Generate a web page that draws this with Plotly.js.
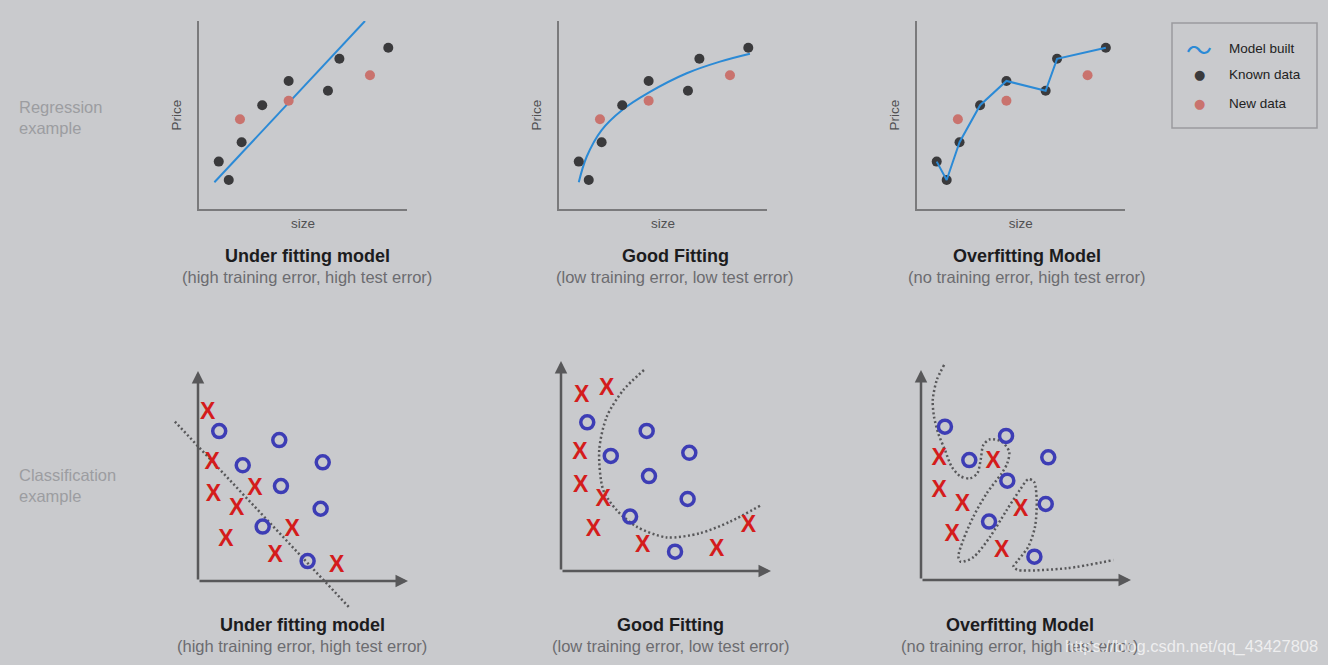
<!DOCTYPE html>
<html><head><meta charset="utf-8">
<script src="https://cdn.plot.ly/plotly-3.0.1.min.js"></script>
<style>html,body{margin:0;padding:0;background:#c9cacd;}#chart{width:1328px;height:665px;}</style>
</head><body><div id="chart"></div>
<script>
// ---------- Regression data (size vs price, arbitrary units 0-10) ----------
const regKnownX = [0.95, 1.43, 2.05, 3.04, 4.31, 6.20, 6.75, 9.10];
const regKnownY = [2.52, 1.54, 3.55, 5.52, 6.81, 6.29, 7.99, 8.58];
const regNewX = [1.97, 4.31, 8.22];
const regNewY = [4.77, 5.76, 7.11];
const underFitX = [0.74, 7.98];
const underFitY = [1.42, 10.0];
const goodFitX = [0.95, 1.33, 2.05, 3.04, 4.31, 6.14, 7.74, 9.18];
const goodFitY = [1.42, 2.78, 4.20, 5.27, 6.19, 7.22, 7.84, 8.26];

// ---------- Classification data ----------
// Under fitting
const c1XsX = [0.46, 0.68, 0.73, 1.84, 2.71, 1.33, 3.67, 4.49, 6.60];
const c1XsY = [7.99, 5.63, 4.10, 3.43, 4.37, 1.95, 1.16, 2.40, 0.68];
const c1OsX = [1.01, 3.87, 2.13, 5.94, 3.95, 5.84, 3.08, 5.22];
const c1OsY = [7.14, 6.71, 5.51, 5.65, 4.52, 3.44, 2.59, 0.95];
const c1BoundX = [-1.10, 7.24];
const c1BoundY = [7.59, -1.30];
// Good fitting
const c2XsX = [0.99, 2.18, 0.90, 0.94, 2.01, 1.54, 3.89, 7.41, 8.92];
const c2XsY = [8.30, 8.65, 5.60, 4.05, 3.38, 1.92, 1.16, 1.00, 2.14];
const c2OsX = [1.25, 4.08, 2.37, 6.11, 4.19, 6.03, 3.29, 5.43];
const c2OsY = [7.08, 6.67, 5.48, 5.63, 4.52, 3.43, 2.59, 0.92];
const c2BoundX = [3.95, 2.97, 2.18, 1.82, 2.01, 2.65, 3.60, 5.03, 6.62, 8.05, 9.48];
const c2BoundY = [9.57, 8.62, 7.35, 5.76, 3.86, 2.90, 2.11, 1.60, 1.80, 2.35, 3.11];
// Overfitting
const c3XsX = [0.86, 3.44, 0.87, 1.97, 4.75, 1.49, 3.84];
const c3XsY = [5.75, 5.63, 4.24, 3.57, 3.30, 2.14, 1.35];
const c3OsX = [1.14, 4.05, 2.30, 6.06, 4.11, 5.94, 3.24, 5.40];
const c3OsY = [7.30, 6.86, 5.71, 5.84, 4.73, 3.62, 2.78, 1.11];
const c3BoundX = [1.10, 0.75, 0.56, 0.62, 0.82, 1.14, 1.46, 1.86, 2.33, 2.68, 2.84, 2.97, 3.29, 3.84, 4.20, 4.11, 3.84, 3.13, 2.49, 2.01, 1.78, 1.89, 2.49, 3.29, 4.08, 4.71, 5.11, 5.38, 5.51, 5.43, 5.11, 4.63, 4.40, 4.63, 6.94, 9.16];
const c3BoundY = [10.24, 9.52, 8.57, 7.78, 6.99, 6.19, 5.40, 4.95, 4.84, 5.08, 5.71, 6.43, 6.70, 6.59, 6.11, 5.56, 5.08, 4.13, 3.01, 1.90, 1.11, 0.87, 1.08, 2.06, 3.33, 4.29, 4.80, 4.68, 3.81, 2.54, 1.59, 0.95, 0.63, 0.48, 0.56, 0.95];

// ---------- Text ----------
const modelTitles = ['Under fitting model', 'Good Fitting', 'Overfitting Model'];
const modelSubtitles = ['(high training error, high test error)', '(low training error, low test error)', '(no training error, high test error)'];
const rowLabels = ['Regression<br>example', 'Classification<br>example'];
const legendLabels = ['Model built', 'Known data', 'New data'];
const xLabel = 'size', yLabel = 'Price';
const watermark = 'https://blog.csdn.net/qq_43427808';

// ---------- Styling / layout ----------
const W = 1328, H = 665;
const FONT = 'Liberation Sans, Arial, Helvetica, sans-serif';
const BLUE = '#2b8ad6', DARK = '#3a3a3c', RED = '#c9736e';
const XRED = '#d41c1c', OBLUE = '#3d3db5', AX = '#7a7a7c', ARROW = '#58585a';
const px = (a, b) => [a / W, b / W];
const py = (top, bottom) => [1 - bottom / H, 1 - top / H];

const traces = [];
function sc(ax, o) { return Object.assign({xaxis: 'x' + ax, yaxis: 'y' + ax, showlegend: false, hoverinfo: 'skip', cliponaxis: false}, o); }
function known(ax) { return sc(ax, {x: regKnownX, y: regKnownY, mode: 'markers', marker: {color: DARK, size: 10}}); }
function fresh(ax) { return sc(ax, {x: regNewX, y: regNewY, mode: 'markers', marker: {color: RED, size: 10}}); }

// Panel 1
traces.push(sc('', {x: underFitX, y: underFitY, mode: 'lines', line: {color: BLUE, width: 2}}));
traces.push(known(''), fresh(''));
// Panel 2
traces.push(sc('2', {x: goodFitX, y: goodFitY, mode: 'lines', line: {color: BLUE, width: 2, shape: 'spline', smoothing: 1}}));
traces.push(known('2'), fresh('2'));
// Panel 3
traces.push(known('3'), fresh('3'));
traces.push(sc('3', {x: regKnownX, y: regKnownY, mode: 'lines', line: {color: BLUE, width: 2}}));

// Classification panels
const cls = [
  ['4', c1XsX, c1XsY, c1OsX, c1OsY, c1BoundX, c1BoundY, 'linear'],
  ['5', c2XsX, c2XsY, c2OsX, c2OsY, c2BoundX, c2BoundY, 'spline'],
  ['6', c3XsX, c3XsY, c3OsX, c3OsY, c3BoundX, c3BoundY, 'spline'],
];
cls.forEach(([ax, xx, xy, ox, oy, bx, by, shp]) => {
  traces.push(sc(ax, {x: bx, y: by, mode: 'lines', line: {color: ARROW, width: 2.5, dash: '2px,2.5px', shape: shp, smoothing: 0.8}}));
  traces.push(sc(ax, {x: ox, y: oy, mode: 'markers', marker: {symbol: 'circle-open', size: 13, color: OBLUE, line: {color: OBLUE, width: 3.5}}}));
  traces.push(sc(ax, {x: xx, y: xy, mode: 'text', text: xx.map(() => 'X'), textposition: 'middle center', textfont: {family: FONT, size: 23, color: XRED, weight: 'bold'}}));
});

const layout = {
  width: W, height: H, margin: {l: 0, r: 0, t: 0, b: 0},
  paper_bgcolor: '#c9cacd', plot_bgcolor: 'rgba(0,0,0,0)',
  font: {family: FONT}, showlegend: false,
  annotations: [], shapes: []
};
const topX = [[199, 407], [559, 767], [917, 1124.5]];
['', '2', '3'].forEach((a, i) => {
  const base = {showline: true, linecolor: AX, linewidth: 2, showticklabels: false, ticks: '', showgrid: false, zeroline: false, fixedrange: true, range: [0, 10]};
  layout['xaxis' + a] = Object.assign({}, base, {domain: px(...topX[i]), anchor: 'y' + a,
    title: {text: xLabel, font: {size: 13.5, color: '#505052'}, standoff: 9}});
  layout['yaxis' + a] = Object.assign({}, base, {domain: py(21, 209), anchor: 'x' + a,
    title: {text: yLabel, font: {size: 13.5, color: '#505052'}, standoff: 12}});
});
const origins = [[198, 581], [561, 571], [921, 580]];
const U = 21;
['4', '5', '6'].forEach((a, i) => {
  const [ox, oy] = origins[i];
  const base = {visible: false, range: [-2, 11], fixedrange: true};
  layout['xaxis' + a] = Object.assign({}, base, {domain: px(ox - 2 * U, ox + 11 * U), anchor: 'y' + a});
  layout['yaxis' + a] = Object.assign({}, base, {domain: py(oy - 11 * U, oy + 2 * U), anchor: 'x' + a});
  const arr = {xref: 'x' + a, yref: 'y' + a, axref: 'x' + a, ayref: 'y' + a, ax: 0, ay: 0, text: '', showarrow: true,
    arrowhead: 2, arrowsize: 1, arrowwidth: 2.5, arrowcolor: ARROW, standoff: 0};
  layout.annotations.push(Object.assign({}, arr, {x: 10, y: 0}), Object.assign({}, arr, {x: 0, y: 10}));
});

// titles
const titleCX = [[307, 675, 1027], [302, 671, 1020]];
const titleY = [[256, 277], [625, 646]];
[0, 1].forEach(r => {
  titleCX[r].forEach((cx, i) => {
    layout.annotations.push({xref: 'paper', yref: 'paper', x: cx / W, y: 1 - titleY[r][0] / H, xanchor: 'center', yanchor: 'middle', showarrow: false,
      text: '<b>' + modelTitles[i] + '</b>', font: {size: 18, color: '#1c1c1e'}});
    layout.annotations.push({xref: 'paper', yref: 'paper', x: cx / W, y: 1 - titleY[r][1] / H, xanchor: 'center', yanchor: 'middle', showarrow: false,
      text: modelSubtitles[i], font: {size: 16.5, color: '#6c6c70'}});
  });
});
// row labels
[117, 485].forEach((cy, i) => {
  layout.annotations.push({xref: 'paper', yref: 'paper', x: 17 / W, y: 1 - cy / H, xanchor: 'left', yanchor: 'middle', align: 'left', showarrow: false,
    text: rowLabels[i], font: {size: 16.5, color: '#9c9da1'}});
});
// legend box
layout.shapes.push({type: 'rect', xref: 'paper', yref: 'paper', x0: 1172 / W, x1: 1317 / W, y0: 1 - 128 / H, y1: 1 - 23 / H,
  line: {color: '#9b9b9e', width: 1.5}});
const legY = [48, 75, 103];
const legSym = [['〜', BLUE, 26, 'Noto Sans CJK SC'], ['●', DARK, 13, 'DejaVu Sans'], ['●', RED, 13, 'DejaVu Sans']];
legY.forEach((yy, i) => {
  layout.annotations.push({xref: 'paper', yref: 'paper', x: 1199 / W, y: 1 - yy / H, xanchor: 'center', yanchor: 'middle', showarrow: false,
    text: legSym[i][0], font: {family: legSym[i][3], size: legSym[i][2], color: legSym[i][1]}});
  layout.annotations.push({xref: 'paper', yref: 'paper', x: 1227 / W, y: 1 - yy / H, xanchor: 'left', yanchor: 'middle', showarrow: false,
    text: legendLabels[i], font: {size: 13.5, color: '#222'}});
});
// watermark
layout.annotations.push({xref: 'paper', yref: 'paper', x: 1320 / W, y: 1 - 646 / H, xanchor: 'right', yanchor: 'middle', showarrow: false,
  text: watermark, font: {size: 16.5, color: 'rgba(255,255,255,0.7)'}});

Plotly.newPlot('chart', traces, layout, {displayModeBar: false, staticPlot: true});
</script></body></html>
